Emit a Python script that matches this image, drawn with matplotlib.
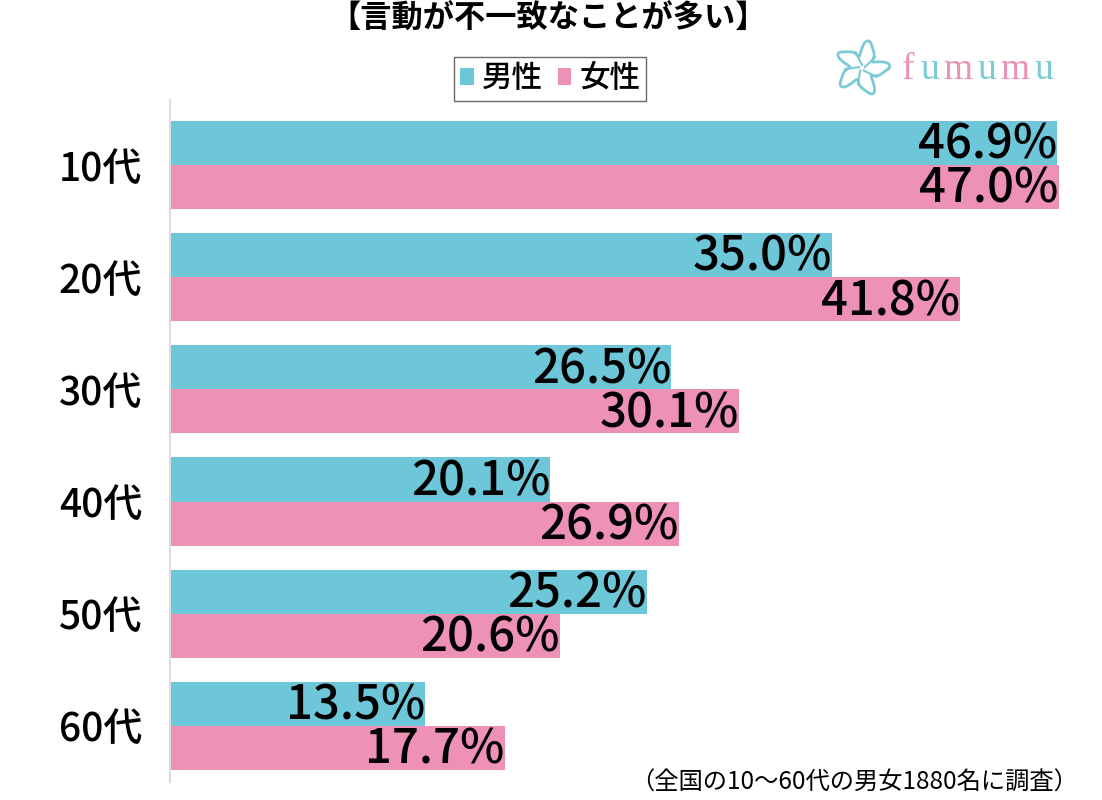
import matplotlib
matplotlib.use("Agg")
import matplotlib.pyplot as plt
import numpy as np

plt.rcParams['font.family'] = ['Noto Sans CJK JP', 'DejaVu Sans']

# data
ages = ['10代', '20代', '30代', '40代', '50代', '60代']
male = [46.9, 35.0, 26.5, 20.1, 25.2, 13.5]
female = [47.0, 41.8, 30.1, 26.9, 20.6, 17.7]
series_names = ['男性', '女性']
title = '【言動が不一致なことが多い】'
note = '（全国の10〜60代の男女1880名に調査）'

blue = '#6EC6D9'
pink = '#EE91B6'
logo_teal = '#7CCAD6'

fig = plt.figure(figsize=(11.02, 8.0), dpi=100)
ax = fig.add_axes([170 / 1102, 18 / 800, 930 / 1102, 682 / 800])

y = np.arange(len(ages))
h = 0.393
ax.barh(y - h / 2, male, height=h, color=blue, label=series_names[0])
ax.barh(y + h / 2, female, height=h, color=pink, label=series_names[1])

# value labels, right-aligned at bar end
for yi, v in zip(y, male):
    ax.text(v, yi - h / 2 + 0.02, f'{v:.1f}%', ha='right', va='center',
            fontsize=34, fontweight='medium')
for yi, v in zip(y, female):
    ax.text(v, yi + h / 2 + 0.02, f'{v:.1f}%', ha='right', va='center',
            fontsize=34, fontweight='medium')

ax.set_xlim(0, 930 / 18.91)
ax.set_ylim(5.5, -0.58)
ax.set_yticks(y)
ax.set_yticklabels(ages, fontsize=28, fontweight='medium')
ax.tick_params(axis='y', length=0, pad=20)
ax.set_xticks([])
for s in ['top', 'right', 'bottom']:
    ax.spines[s].set_visible(False)
ax.spines['left'].set_color('#dddddd')
ax.spines['left'].set_linewidth(1.5)

fig.text(548 / 1102, 1 - 19 / 800, title, ha='center', va='center',
         fontsize=22.5, fontweight='bold')

leg = fig.legend(loc='center', bbox_to_anchor=(550 / 1102, 1 - 79 / 800), ncol=2,
                 prop={'size': 22, 'weight': 'medium'}, handlelength=0.45, handleheight=0.45,
                 handletextpad=0.25, columnspacing=0.5, borderpad=0.2, borderaxespad=0,
                 fancybox=False, edgecolor='#444444')
leg.get_frame().set_linewidth(1.0)

fig.text(1078 / 1102, 1 - 783 / 800, note, ha='right', va='center', fontsize=17.5)

# logo text, letters alternate pink / teal
letters = 'fumumu'
letter_x = [908, 930, 958, 987, 1015, 1044]
for i, (ch, lx) in enumerate(zip(letters, letter_x)):
    col = pink if i % 2 == 0 else logo_teal
    fig.text(lx / 1102, 1 - 70 / 800, ch, ha='center', va='center',
             fontsize=27, family='Liberation Serif', color=col)

# flower mark
lax = fig.add_axes([832 / 1102, 1 - 98 / 800, 60 / 1102, 60 / 800])
t = np.linspace(0, 2 * np.pi, 400)
r = 1 + 0.35 * np.cos(5 * t) + 0.1 * np.sin(10 * t)
lax.plot(r * np.cos(t), r * np.sin(t), color=logo_teal, lw=2)
for k in range(5):
    a = k * 2 * np.pi / 5 + 0.3
    lax.plot([0.15 * np.cos(a), 0.85 * np.cos(a + 0.4)],
             [0.15 * np.sin(a), 0.85 * np.sin(a + 0.4)], color=logo_teal, lw=1.5)
lax.set_xlim(-1.5, 1.5)
lax.set_ylim(-1.5, 1.5)
lax.set_aspect('equal')
lax.axis('off')

fig.savefig('out.png', dpi=100)
